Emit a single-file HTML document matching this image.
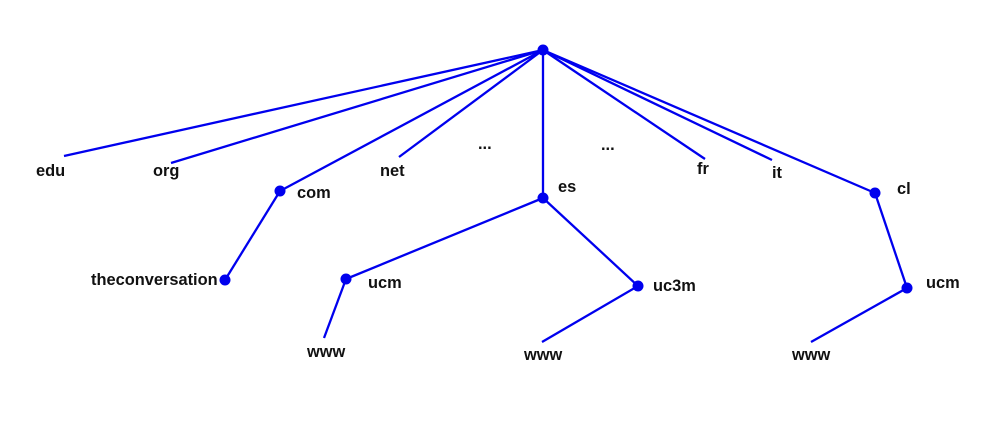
<!DOCTYPE html>
<html><head><style>
html,body{margin:0;padding:0;background:#fff;}
svg text{font-family:"Liberation Sans",Arial,sans-serif;font-size:16.4px;font-weight:bold;fill:#111;dominant-baseline:central;}
</style></head><body>
<svg width="1000" height="440" viewBox="0 0 1000 440" xmlns="http://www.w3.org/2000/svg">
<g stroke="#0000ee" stroke-width="2.3" fill="none">
<line x1="543" y1="50" x2="64" y2="156"/>
<line x1="543" y1="50" x2="171" y2="163"/>
<line x1="543" y1="50" x2="280" y2="191"/>
<line x1="543" y1="50" x2="399" y2="157"/>
<line x1="543" y1="50" x2="543" y2="198"/>
<line x1="543" y1="50" x2="705" y2="159"/>
<line x1="543" y1="50" x2="772" y2="160"/>
<line x1="543" y1="50" x2="875" y2="193"/>
<line x1="280" y1="191" x2="225" y2="280"/>
<line x1="543" y1="198" x2="346" y2="279"/>
<line x1="346" y1="279" x2="324" y2="338"/>
<line x1="543" y1="198" x2="638" y2="286"/>
<line x1="638" y1="286" x2="542" y2="342"/>
<line x1="875" y1="193" x2="907" y2="288"/>
<line x1="907" y1="288" x2="811" y2="342"/>
</g>
<g fill="#0000ee">
<circle cx="543" cy="50" r="5.5"/>
<circle cx="280" cy="191" r="5.5"/>
<circle cx="543" cy="198" r="5.5"/>
<circle cx="875" cy="193" r="5.5"/>
<circle cx="225" cy="280" r="5.5"/>
<circle cx="346" cy="279" r="5.5"/>
<circle cx="638" cy="286" r="5.5"/>
<circle cx="907" cy="288" r="5.5"/>
</g>
<text x="36" y="171">edu</text>
<text x="153" y="171">org</text>
<text x="297" y="193">com</text>
<text x="380" y="171">net</text>
<text x="478" y="144">...</text>
<text x="558" y="187">es</text>
<text x="601" y="145">...</text>
<text x="697" y="169">fr</text>
<text x="772" y="173">it</text>
<text x="897" y="189">cl</text>
<text x="91" y="280">theconversation</text>
<text x="368" y="283">ucm</text>
<text x="307" y="352">www</text>
<text x="653" y="286">uc3m</text>
<text x="524" y="355">www</text>
<text x="926" y="283">ucm</text>
<text x="792" y="355">www</text>
</svg>
</body></html>
